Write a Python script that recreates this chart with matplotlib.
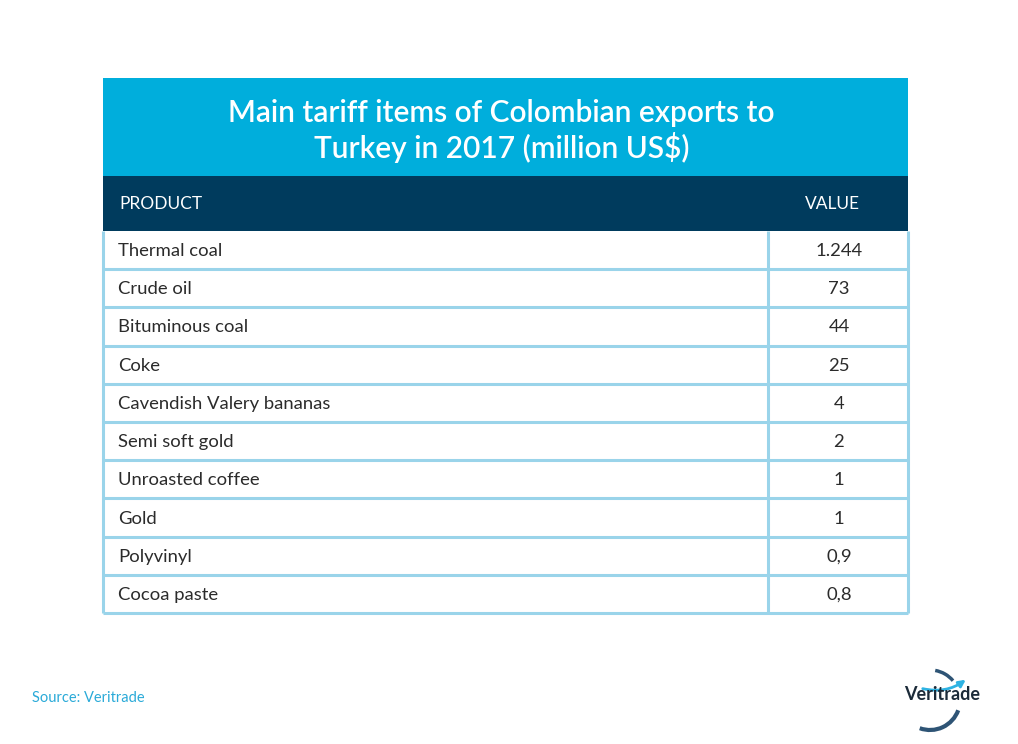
import matplotlib
matplotlib.use("Agg")
import matplotlib.pyplot as plt
from matplotlib.patches import Rectangle, Arc, FancyArrowPatch

products = ["Thermal coal", "Crude oil", "Bituminous coal", "Coke",
            "Cavendish Valery bananas", "Semi soft gold", "Unroasted coffee",
            "Gold", "Polyvinyl", "Cocoa paste"]
values = ["1.244", "73", "44", "25", "4", "2", "1", "1", "0,9", "0,8"]
title = "Main tariff items of Colombian exports to\nTurkey in 2017 (million US$)"
col_headers = ["PRODUCT", "VALUE"]
source = "Source: Veritrade"

W, H = 1018, 744
fig = plt.figure(figsize=(W / 100, H / 100), dpi=100)
ax = fig.add_axes([0, 0, 1, 1])
ax.set_xlim(0, W)
ax.set_ylim(H, 0)
ax.axis("off")

FONT = "Lato"
CYAN = "#00AEDC"
NAVY = "#003B5D"
LINE = "#9AD4EA"
TXT = "#2b2b2b"

x0, x1, xdiv = 103, 908, 768
# title band
ax.add_patch(Rectangle((x0, 78), x1 - x0, 98, color=CYAN, lw=0))
ax.text((x0 + x1) / 2 - 4, 131, title, ha="center", va="center", color="white",
        fontsize=21.5, family=FONT, fontweight="semibold", linespacing=1.2)
# header band
ax.add_patch(Rectangle((x0, 176), x1 - x0, 55, color=NAVY, lw=0))
ax.text(119, 204, col_headers[0], ha="left", va="center", color="white",
        fontsize=12.5, family=FONT)
ax.text(832, 204, col_headers[1], ha="center", va="center", color="white",
        fontsize=12.5, family=FONT)

# rows
row_top = 231
row_h = 38.2
n = len(products)
bottom = row_top + n * row_h
for i in range(1, n + 1):
    y = row_top + i * row_h
    ax.plot([x0, x1], [y, y], color=LINE, lw=2.2, solid_capstyle="butt")
for xv in (x0, xdiv, x1):
    ax.plot([xv, xv], [row_top, bottom], color=LINE, lw=2.2, solid_capstyle="butt")

for i, (p, v) in enumerate(zip(products, values)):
    yc = row_top + (i + 0.5) * row_h + 1
    ax.text(118, yc, p, ha="left", va="center", color=TXT, fontsize=13.3, family=FONT)
    ax.text(839, yc, v, ha="center", va="center", color=TXT, fontsize=13.3, family=FONT)

# source
ax.text(32, 698, source, ha="left", va="center", color="#2AAAD8", fontsize=10.5,
        family=FONT)

# logo
ax.text(942, 695, "Veritrade", ha="center", va="center", color="#1c2b39",
        fontsize=13, family=FONT, fontweight="bold")
ax.add_patch(Arc((930, 700), 60, 60, theta1=20, theta2=110, color="#2E5475", lw=3))
ax.add_patch(Arc((930, 700), 60, 60, theta1=280, theta2=320, color="#2E5475", lw=2.5))
ax.add_patch(FancyArrowPatch((920, 688), (968, 678), arrowstyle="-|>", mutation_scale=10,
                             connectionstyle="arc3,rad=0.25", color="#2EB3E3", lw=2))

fig.savefig("out.png", dpi=100)
